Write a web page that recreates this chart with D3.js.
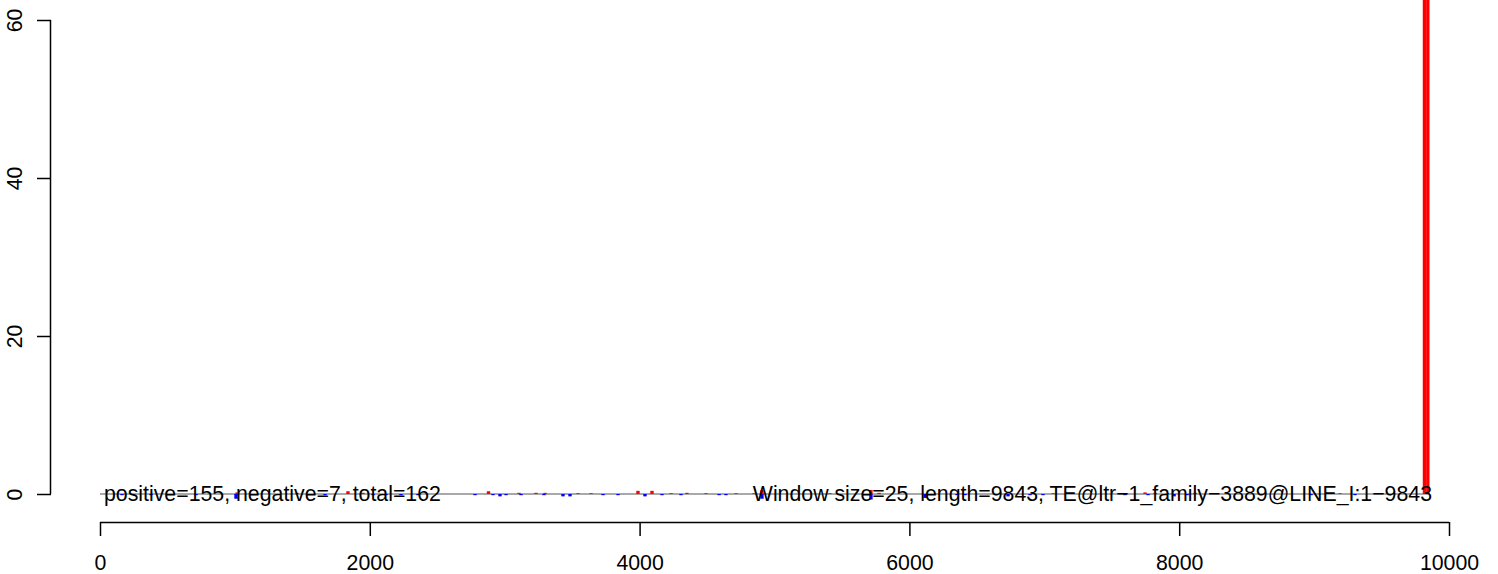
<!DOCTYPE html>
<html>
<head>
<meta charset="utf-8">
<script src="https://cdn.jsdelivr.net/npm/d3@7"></script>
<style>
  html, body { margin: 0; padding: 0; background: #fff; }
  svg text { font-family: "Liberation Sans", Arial, sans-serif; }
</style>
</head>
<body>
<svg id="chart" width="1498" height="574"></svg>
<script>
// ---- data ----
const windowSize = 25;
const seqLength = 9843;
const xTicks = [0, 2000, 4000, 6000, 8000, 10000];
const yTicks = [0, 20, 40, 60];
const posCenters = [1016, 1460, 1838, 1950, 2880, 3106, 3232, 3299, 3543, 3640, 3988, 4092, 4233, 4351, 4492, 4715, 4848, 4907, 5411, 5715, 5775, 7065, 7747, 7821, 7910, 8117, 9125, 9192, 9818, 9843];
const posValues  = [0.2, 0.15, 0.35, 0.15, 0.35, 0.15, 0.15, 0.15, 0.1, 0.1, 0.4, 0.4, 0.1, 0.15, 0.1, 0.1, 0.1, 0.5, 0.1, 0.5, 0.15, 0.1, 0.2, 0.15, 0.1, 0.15, 0.1, 0.1, 70, 70];
const negCenters = [163, 378, 712, 1008, 1668, 2024, 2120, 2231, 2357, 2780, 2913, 2965, 3010, 3121, 3291, 3432, 3484, 3729, 3840, 4040, 4166, 4307, 4589, 4640, 4907, 5715, 6116, 6353, 6412, 6731, 6894, 6990, 7598, 7769, 7962, 8058, 8977, 9303];
const negValues  = [-0.15, -0.15, -0.15, -0.6, -0.15, -0.15, -0.15, -0.15, -0.15, -0.15, -0.15, -0.3, -0.15, -0.15, -0.15, -0.3, -0.3, -0.15, -0.15, -0.3, -0.15, -0.15, -0.15, -0.15, -0.6, -0.7, -0.5, -0.15, -0.15, -0.3, -0.15, -0.15, -0.15, -0.15, -0.3, -0.15, -0.15, -0.15];
const leftLabel = "positive=155, negative=7, total=162";
const rightLabel = "Window size=25, length=9843, TE@ltr\u22121_family\u22123889@LINE_I:1\u22129843";

// ---- layout ----
const svg = d3.select("#chart");
const x = d3.scaleLinear().domain([0, 10000]).range([100, 1449]);
const y = d3.scaleLinear().domain([0, 60]).range([494, 20]);
const fontSize = 21.3;

svg.append("defs").append("clipPath").attr("id", "plotclip")
  .append("rect").attr("x", 0).attr("y", 0).attr("width", 1498).attr("height", 520);

const plot = svg.append("g").attr("clip-path", "url(#plotclip)");

// baseline
plot.append("line")
  .attr("x1", x(0)).attr("x2", x(seqLength))
  .attr("y1", y(0)).attr("y2", y(0))
  .attr("stroke", "#a9a9a9").attr("stroke-width", 2);

const pos = posCenters.map((c, i) => ({c, v: posValues[i]}));
const neg = negCenters.map((c, i) => ({c, v: negValues[i]}));

plot.selectAll("rect.pos").data(pos).join("rect").attr("class", "pos")
  .attr("x", d => x(d.c - windowSize / 2))
  .attr("width", d => x(d.c + windowSize / 2) - x(d.c - windowSize / 2))
  .attr("y", d => y(d.v))
  .attr("height", d => y(0) - y(d.v))
  .attr("fill", "#ff0000");

plot.selectAll("rect.neg").data(neg).join("rect").attr("class", "neg")
  .attr("x", d => x(d.c - windowSize / 2))
  .attr("width", d => x(d.c + windowSize / 2) - x(d.c - windowSize / 2))
  .attr("y", y(0))
  .attr("height", d => y(d.v) - y(0))
  .attr("fill", "#0000ff");

// labels
svg.append("text").attr("x", 104).attr("y", 501)
  .attr("font-size", fontSize).attr("fill", "#000").text(leftLabel);
svg.append("text").attr("x", 1432).attr("y", 501).attr("text-anchor", "end")
  .attr("font-size", fontSize).attr("fill", "#000").text(rightLabel);

// x axis
const xAxis = svg.append("g").attr("transform", "translate(0,522)")
  .call(d3.axisBottom(x).tickValues(xTicks).tickSize(14).tickPadding(19).tickFormat(d3.format("d")));
xAxis.select(".domain").attr("d", `M${x(0)},0.5H${x(10000)}`).attr("stroke", "#000").attr("stroke-width", 1.5);
xAxis.selectAll(".tick line").attr("stroke", "#000").attr("stroke-width", 1.5);
xAxis.selectAll(".tick text").attr("font-size", fontSize).attr("fill", "#000")
  .attr("font-family", "Liberation Sans, Arial, sans-serif");

// y axis
const yAxis = svg.append("g").attr("transform", "translate(51,0)")
  .call(d3.axisLeft(y).tickValues(yTicks).tickSize(14).tickFormat(d3.format("d")));
yAxis.select(".domain").attr("d", `M-0.5,${y(0)}V${y(60)}`).attr("stroke", "#000").attr("stroke-width", 1.5);
yAxis.selectAll(".tick line").attr("stroke", "#000").attr("stroke-width", 1.5);
yAxis.selectAll(".tick text")
  .attr("font-size", fontSize).attr("fill", "#000")
  .attr("font-family", "Liberation Sans, Arial, sans-serif")
  .attr("x", null).attr("dy", null)
  .attr("text-anchor", "middle")
  .attr("transform", "translate(-36,0) rotate(-90)")
  .attr("dominant-baseline", "central");
</script>
</body>
</html>
